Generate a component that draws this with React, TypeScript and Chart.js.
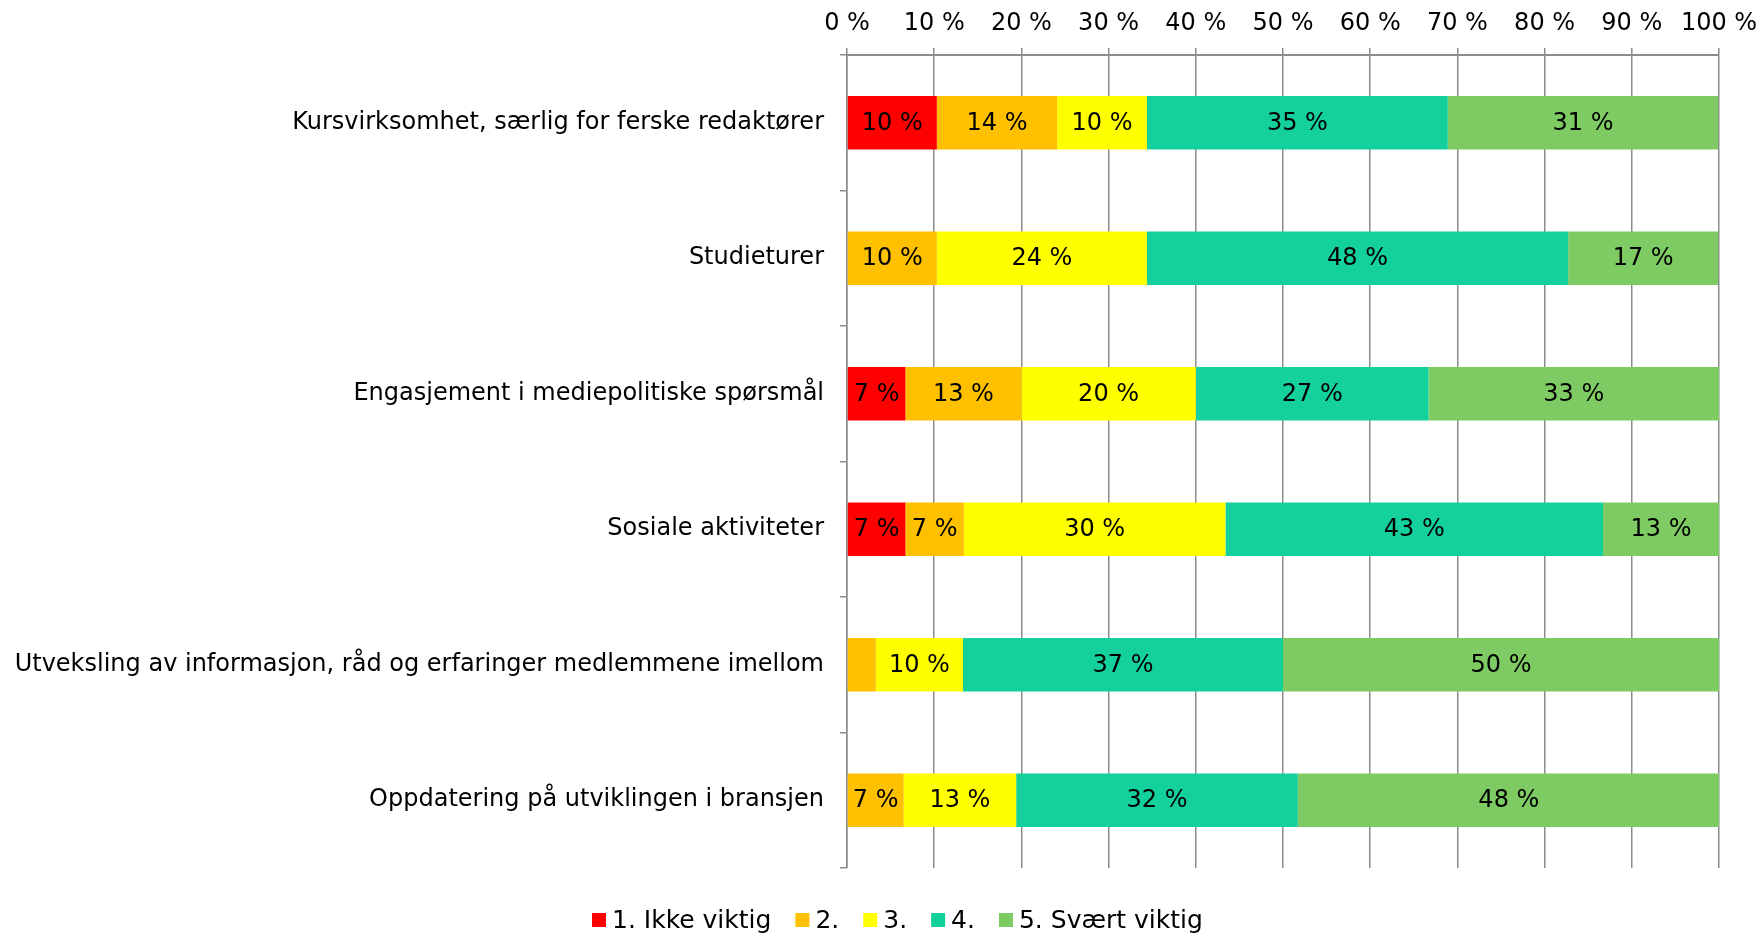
import React, { useEffect, useRef } from "react";
import { Chart, registerables } from "chart.js";

Chart.register(...registerables);

const categories = [
  "Kursvirksomhet, særlig for ferske redaktører",
  "Studieturer",
  "Engasjement i mediepolitiske spørsmål",
  "Sosiale aktiviteter",
  "Utveksling av informasjon, råd og erfaringer medlemmene imellom",
  "Oppdatering på utviklingen i bransjen",
];

const seriesNames = ["1. Ikke viktig", "2.", "3.", "4.", "5. Svært viktig"];
const seriesColors = ["#FF0000", "#FFC000", "#FFFF00", "#13D09C", "#7ECB63"];

const ikkeViktig = [10.3, 0, 6.7, 6.7, 0, 0];
const score2 = [13.8, 10.3, 13.3, 6.7, 3.3, 6.5];
const score3 = [10.3, 24.1, 20.0, 30.0, 10.0, 12.9];
const score4 = [34.5, 48.3, 26.7, 43.3, 36.7, 32.3];
const svaertViktig = [31.0, 17.2, 33.3, 13.3, 50.0, 48.4];

const seriesValues = [ikkeViktig, score2, score3, score4, svaertViktig];

const xMin = 0;
const xMax = 100;
const xStep = 10;
const tickSuffix = " %";

const FONT = "'DejaVu Sans', Verdana, sans-serif";

const valueLabels = {
  id: "valueLabels",
  afterDatasetsDraw(chart: any) {
    const ctx = chart.ctx;
    ctx.save();
    ctx.font = `24px ${FONT}`;
    ctx.fillStyle = "#000";
    ctx.textAlign = "center";
    ctx.textBaseline = "middle";
    chart.data.datasets.forEach((ds: any, i: number) => {
      const meta = chart.getDatasetMeta(i);
      meta.data.forEach((el: any, j: number) => {
        const v = ds.data[j];
        if (v == null || v < 5) return;
        const p = el.getCenterPoint();
        ctx.fillText(Math.round(v) + tickSuffix, p.x, p.y + 1);
      });
    });
    ctx.restore();
  },
};

const bottomLegend = {
  id: "bottomLegend",
  afterDraw(chart: any) {
    const ctx = chart.ctx;
    ctx.save();
    ctx.font = `25px ${FONT}`;
    ctx.textBaseline = "middle";
    ctx.textAlign = "left";
    const y = 920;
    let x = 592;
    chart.data.datasets.forEach((ds: any) => {
      ctx.fillStyle = ds.backgroundColor;
      ctx.fillRect(x, y - 7, 14, 14);
      ctx.fillStyle = "#000";
      ctx.fillText(ds.label, x + 20, y + 1);
      x += 20 + ctx.measureText(ds.label).width + 24;
    });
    ctx.restore();
  },
};

export default function App() {
  const canvasRef = useRef<HTMLCanvasElement | null>(null);

  useEffect(() => {
    document.body.style.margin = "0";
    const canvas = canvasRef.current;
    if (!canvas) return;
    Chart.defaults.font.family = FONT;
    Chart.defaults.color = "#000";
    const chart = new Chart(canvas, {
      type: "bar",
      data: {
        labels: categories,
        datasets: seriesNames.map((name, i) => ({
          label: name,
          data: seriesValues[i],
          backgroundColor: seriesColors[i],
          borderWidth: 0,
          barPercentage: 0.395,
          categoryPercentage: 1,
        })),
      },
      options: {
        indexAxis: "y",
        responsive: false,
        animation: false,
        devicePixelRatio: 1,
        layout: { padding: { left: 0, right: 43, top: 0, bottom: 65 } },
        plugins: {
          legend: { display: false },
          tooltip: { enabled: false },
          title: { display: false },
        },
        scales: {
          x: {
            position: "top",
            stacked: true,
            min: xMin,
            max: xMax,
            ticks: {
              stepSize: xStep,
              font: { size: 24, family: FONT },
              color: "#000",
              padding: 10,
              callback: (v: any) => v + tickSuffix,
            },
            grid: {
              color: "#8C8C8C",
              lineWidth: 1.5,
              tickLength: 7,
              drawTicks: true,
            },
            border: { display: true, color: "#8C8C8C", width: 2 },
            afterFit: (scale: any) => {
              scale.height = 55;
              scale.paddingLeft = 0;
              scale.paddingRight = 0;
            },
          },
          y: {
            stacked: true,
            ticks: {
              font: { size: 24, family: FONT },
              color: "#000",
              padding: 16,
            },
            grid: {
              display: true,
              drawOnChartArea: false,
              drawTicks: true,
              tickLength: 7,
              color: "#8C8C8C",
              lineWidth: 1.5,
              offset: true,
            },
            border: { display: true, color: "#8C8C8C", width: 1.5 },
            afterFit: (scale: any) => {
              scale.width = 847;
              scale.paddingTop = 0;
              scale.paddingBottom = 0;
            },
          },
        },
      },
      plugins: [valueLabels, bottomLegend],
    });
    return () => chart.destroy();
  }, []);

  return (
    <div style={{ width: 1762, height: 933, position: "relative" }}>
      <canvas ref={canvasRef} width={1762} height={933} style={{ display: "block" }} />
    </div>
  );
}
